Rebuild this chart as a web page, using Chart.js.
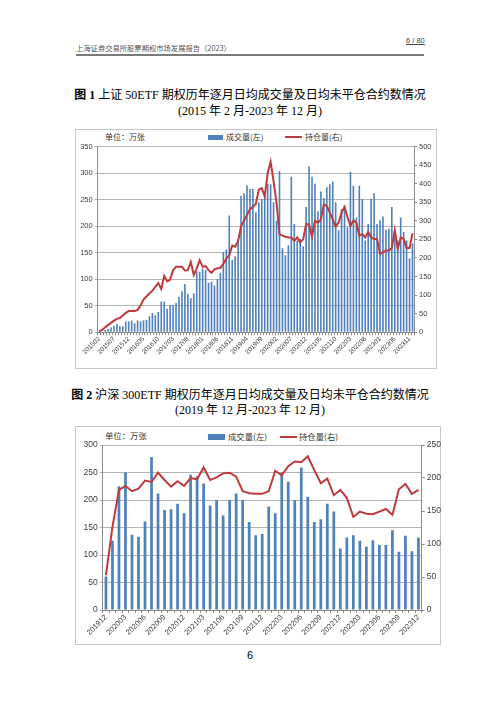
<!DOCTYPE html>
<html>
<head>
<meta charset="utf-8">
<script src="https://cdn.jsdelivr.net/npm/chart.js@4.4.1/dist/chart.umd.min.js"></script>
<style>
  html, body { margin: 0; padding: 0; background: #fff; }
  body { width: 500px; height: 707px; position: relative; overflow: hidden;
         font-family: "Liberation Serif", "Noto Sans CJK SC", serif; color: #000; }
  .abs { position: absolute; white-space: nowrap; line-height: 1; }
  .frame { position: absolute; border: 1px solid #c6c6c6; box-sizing: border-box; }
  .title { left: 0; width: 500px; text-align: center; font-size: 12px; }
  .unit { font-family: "Noto Sans CJK SC", sans-serif; font-size: 8px; color: #333; }
  .leg { font-family: "Noto Sans CJK SC", sans-serif; font-size: 8px; color: #333; }
  canvas { position: absolute; }
</style>
</head>
<body>

<div class="abs" style="left:76px;top:45px;font-size:7.3px;color:#555;font-family:'Noto Sans CJK SC',sans-serif;">上海证券交易所股票期权市场发展报告（2023）</div>
<div class="abs" style="left:406px;top:37px;font-size:7.5px;color:#444;font-family:'Liberation Sans',sans-serif;text-decoration:underline;">6 / 80</div>
<div class="abs" style="left:76px;top:54px;width:348px;height:1.5px;background:#7a7a7a;"></div>

<div class="abs title" style="top:89px;"><b>图 1</b> 上证 50ETF 期权历年逐月日均成交量及日均未平仓合约数情况</div>
<div class="abs title" style="top:105px;">(2015 年 2 月-2023 年 12 月)</div>

<div class="frame" style="left:75px;top:129px;width:362px;height:240px;"></div>
<div class="abs unit" style="left:105px;top:133px;">单位：万张</div>
<div class="abs" style="left:208px;top:135px;width:15px;height:5px;background:#4f81bd;"></div>
<div class="abs leg" style="left:226px;top:133px;">成交量(左)</div>
<div class="abs" style="left:285px;top:136px;width:17px;height:2px;background:#bf3a3d;"></div>
<div class="abs leg" style="left:305px;top:133px;">持仓量(右)</div>
<canvas id="c1" width="365" height="230" style="left:75px;top:140px;"></canvas>

<div class="abs title" style="top:389px;"><b>图 2</b> 沪深 300ETF 期权历年逐月日均成交量及日均未平仓合约数情况</div>
<div class="abs title" style="top:404px;">(2019 年 12 月-2023 年 12 月)</div>

<div class="frame" style="left:75px;top:426px;width:366px;height:219px;"></div>
<div class="abs unit" style="left:105px;top:431px;font-size:8.4px;">单位：万张</div>
<div class="abs" style="left:208px;top:434px;width:17px;height:6px;background:#4f81bd;"></div>
<div class="abs leg" style="left:228px;top:432px;font-size:8.4px;">成交量(左)</div>
<div class="abs" style="left:280px;top:436px;width:17px;height:2px;background:#bf3a3d;"></div>
<div class="abs leg" style="left:299px;top:432px;font-size:8.4px;">持仓量(右)</div>
<canvas id="c2" width="366" height="210" style="left:75px;top:435px;"></canvas>

<div class="abs" style="left:0;width:500px;text-align:center;top:650px;font-size:11px;font-family:'Liberation Sans',sans-serif;">6</div>

<script>
// 上证50ETF期权 2015.02 - 2023.12
const months50 = [
  '201502','201503','201504','201505','201506','201507','201508','201509','201510','201511','201512',
  '201601','201602','201603','201604','201605','201606','201607','201608','201609','201610','201611','201612',
  '201701','201702','201703','201704','201705','201706','201707','201708','201709','201710','201711','201712',
  '201801','201802','201803','201804','201805','201806','201807','201808','201809','201810','201811','201812',
  '201901','201902','201903','201904','201905','201906','201907','201908','201909','201910','201911','201912',
  '202001','202002','202003','202004','202005','202006','202007','202008','202009','202010','202011','202012',
  '202101','202102','202103','202104','202105','202106','202107','202108','202109','202110','202111','202112',
  '202201','202202','202203','202204','202205','202206','202207','202208','202209','202210','202211','202212',
  '202301','202302','202303','202304','202305','202306','202307','202308','202309','202310','202311','202312'
];
// 日均成交量 (万张, 左轴)
const volume50 = [
  1, 1, 4, 6, 9, 12, 15, 11, 11, 20,
  20, 22, 17, 22, 20, 22, 23, 30, 36, 32,
  38, 58, 58, 44, 51, 51, 55, 67, 77, 91,
  72, 64, 73, 114, 114, 120, 117, 93, 95, 88,
  100, 112, 151, 156, 220, 136, 143, 175, 257, 262,
  277, 270, 270, 226, 245, 251, 265, 280, 279, 245,
  210, 304, 158, 145, 164, 293, 204, 173, 176, 162,
  236, 313, 293, 280, 228, 265, 253, 273, 279, 284,
  245, 192, 232, 239, 198, 302, 276, 216, 276, 251,
  173, 204, 251, 262, 204, 211, 218, 193, 195, 236,
  180, 173, 216, 189, 173, 139, 167
];
// 日均未平仓合约数 (万张, 右轴)
const openInt50 = [
  2, 6, 13, 19, 25, 31, 36, 38, 45, 52,
  57, 57, 57, 60, 72, 88, 96, 104, 112, 122,
  132, 116, 152, 137, 141, 167, 176, 176, 176, 166,
  167, 189, 154, 172, 194, 176, 178, 167, 160, 169,
  172, 173, 184, 198, 207, 233, 230, 245, 286, 300,
  316, 331, 338, 345, 384, 388, 366, 428, 459, 406,
  348, 264, 260, 257, 255, 255, 246, 255, 242, 250,
  291, 290, 257, 300, 295, 304, 344, 340, 322, 304,
  284, 295, 322, 337, 310, 286, 301, 295, 260, 264,
  255, 270, 255, 251, 251, 211, 215, 220, 220, 227,
  275, 224, 255, 251, 227, 227, 266
];

// 沪深300ETF期权 2019.12 - 2023.12
const months300 = [
  '201912',
  '202001','202002','202003','202004','202005','202006','202007','202008','202009','202010','202011','202012',
  '202101','202102','202103','202104','202105','202106','202107','202108','202109','202110','202111','202112',
  '202201','202202','202203','202204','202205','202206','202207','202208','202209','202210','202211','202212',
  '202301','202302','202303','202304','202305','202306','202307','202308','202309','202310','202311','202312'
];
const volume300 = [
  61, 126, 225, 250, 137, 133, 161, 278, 212, 182,
  183, 193, 176, 246, 243, 230, 190, 200, 172, 200,
  212, 200, 160, 136, 138, 188, 176, 250, 233, 200,
  259, 206, 160, 165, 193, 179, 112, 132, 136, 126,
  115, 127, 118, 118, 145, 106, 135, 107, 132
];
const openInt300 = [
  53, 126, 182, 188, 180, 184, 196, 194, 208, 197,
  187, 195, 188, 200, 198, 216, 197, 201, 207, 208,
  202, 180, 177, 176, 176, 180, 211, 204, 218, 225,
  224, 233, 212, 192, 199, 174, 182, 170, 141, 149,
  146, 145, 149, 153, 144, 183, 191, 176, 182
];

const BLUE = '#4f81bd';
const RED = '#bf3a3d';
const AXIS_GREY = '#8c8c8c';
const GRID_GREY = '#b4b4b4';
const TICK_TEXT = '#404040';
const FONT = "'Liberation Sans', 'Noto Sans', sans-serif";

function buildChart(canvasId, labels, volume, openInt, cfg) {
  const ctx = document.getElementById(canvasId).getContext('2d');
  return new Chart(ctx, {
    type: 'bar',
    data: {
      labels: labels,
      datasets: [
        {
          type: 'line',
          label: '持仓量(右)',
          data: openInt,
          yAxisID: 'y1',
          borderColor: RED,
          borderWidth: cfg.lineWidth,
          pointRadius: 0,
          tension: 0,
          order: 1,
        },
        {
          type: 'bar',
          label: '成交量(左)',
          data: volume,
          yAxisID: 'y',
          backgroundColor: BLUE,
          barPercentage: cfg.barPct,
          categoryPercentage: 1,
          order: 2,
        },
      ],
    },
    options: {
      responsive: false,
      animation: false,
      layout: { autoPadding: false, padding: { top: cfg.padTop, left: 0, right: 0, bottom: 0 } },
      plugins: { legend: { display: false }, tooltip: { enabled: false } },
      scales: {
        x: {
          grid: { drawOnChartArea: false, color: AXIS_GREY, tickLength: 3, offset: true },
          border: { color: AXIS_GREY },
          ticks: {
            autoSkip: false,
            minRotation: 45,
            maxRotation: 45,
            padding: 0,
            color: TICK_TEXT,
            font: { family: FONT, size: cfg.xFont },
            callback: (val, i) => (i % cfg.every === 0 ? labels[i] : ''),
          },
          afterFit: (s) => { s.height = cfg.xHeight; },
        },
        y: {
          position: 'left',
          min: 0,
          max: cfg.yMax,
          grid: { color: GRID_GREY, tickLength: 3 },
          border: { color: AXIS_GREY },
          ticks: { stepSize: 50, padding: 2, color: TICK_TEXT, font: { family: FONT, size: cfg.yFont } },
          afterFit: (s) => { s.width = cfg.yWidth; },
        },
        y1: {
          position: 'right',
          min: 0,
          max: cfg.y1Max,
          grid: { drawOnChartArea: false, color: AXIS_GREY, tickLength: 3 },
          border: { color: AXIS_GREY },
          ticks: { stepSize: 50, padding: 2, color: TICK_TEXT, font: { family: FONT, size: cfg.yFont } },
          afterFit: (s) => { s.width = cfg.y1Width; },
        },
      },
    },
  });
}

buildChart('c1', months50, volume50, openInt50, {
  yMax: 350, y1Max: 500, every: 5, barPct: 0.55, lineWidth: 2,
  padTop: 4.3, xHeight: 37.8, yWidth: 22.7, y1Width: 26,
  xFont: 6.5, yFont: 7.5,
});

buildChart('c2', months300, volume300, openInt300, {
  yMax: 300, y1Max: 250, every: 3, barPct: 0.42, lineWidth: 2,
  padTop: 10, xHeight: 35, yWidth: 27.7, y1Width: 19.3,
  xFont: 7.5, yFont: 8.5,
});
</script>
</body>
</html>
